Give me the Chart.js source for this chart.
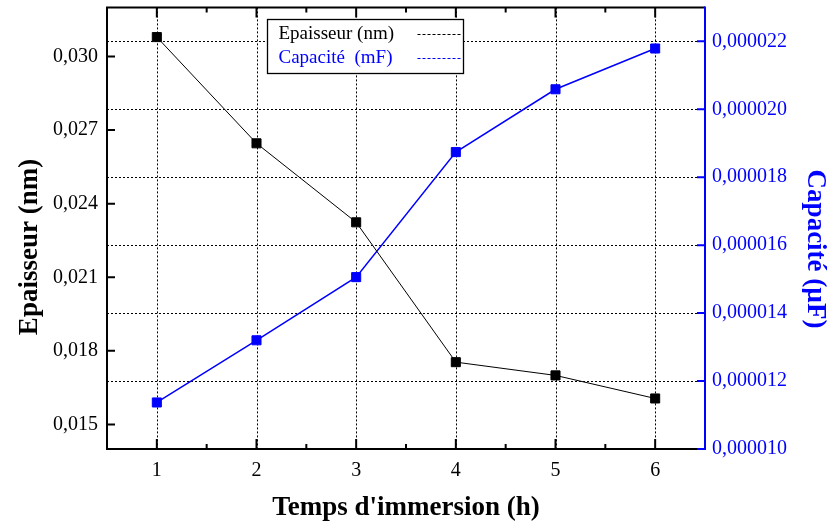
<!DOCTYPE html>
<html><head><meta charset="utf-8">
<script src="https://cdn.jsdelivr.net/npm/chart.js@4"></script>
<style>html,body{margin:0;padding:0;background:#fff}#wrap{width:830px;height:529px}</style>
</head><body><div id="wrap"><canvas id="c" width="830" height="529"></canvas></div>
<script>
// ---- data ----
const hours = [1, 2, 3, 4, 5, 6];
const epaisseur = [0.03079, 0.02646, 0.02324, 0.01754, 0.01700, 0.01606];
const capacite = [0.00001137, 0.00001320, 0.00001506, 0.00001874, 0.00002059, 0.00002179];
const xTicks = [1, 2, 3, 4, 5, 6];
const xMinorTicks = [1.5, 2.5, 3.5, 4.5, 5.5];
const leftTicks = [0.015, 0.018, 0.021, 0.024, 0.027, 0.030];
const rightTicks = [0.000010, 0.000012, 0.000014, 0.000016, 0.000018, 0.000020, 0.000022];
const seriesLabels = ['Epaisseur (nm)', 'Capacité  (mF)'];
const xTitle = "Temps d'immersion (h)";
const leftTitle = 'Epaisseur (nm)';
const rightTitle = 'Capacité (µF)';

const BLUE = '#0000ff';
const SERIF = '"Liberation Serif", "Times New Roman", serif';

const decorPlugin = {
  id: 'decor',
  beforeDatasetsDraw(chart) {
    const {ctx, chartArea: a, scales} = chart;
    ctx.save();
    ctx.strokeStyle = '#000';
    ctx.lineWidth = 1;
    ctx.setLineDash([2, 2]);
    xTicks.forEach(v => {
      const x = Math.round(scales.x.getPixelForValue(v)) + 0.5;
      ctx.beginPath(); ctx.moveTo(x, a.top); ctx.lineTo(x, a.bottom); ctx.stroke();
    });
    rightTicks.forEach(v => {
      const y = Math.round(scales.y1.getPixelForValue(v)) + 0.5;
      if (y >= a.bottom - 1) return;
      ctx.beginPath(); ctx.moveTo(a.left, y); ctx.lineTo(a.right, y); ctx.stroke();
    });
    ctx.restore();
  },
  afterDraw(chart) {
    const {ctx, chartArea: a, scales} = chart;
    ctx.save();
    ctx.setLineDash([]);
    ctx.lineWidth = 2;
    // frame
    ctx.strokeStyle = '#000';
    ctx.beginPath();
    ctx.moveTo(a.right, a.top); ctx.lineTo(a.left, a.top); ctx.lineTo(a.left, a.bottom); ctx.lineTo(a.right, a.bottom);
    ctx.stroke();
    // x ticks (bottom and top, inward)
    ctx.beginPath();
    xTicks.forEach(v => {
      const x = scales.x.getPixelForValue(v);
      ctx.moveTo(x, a.bottom); ctx.lineTo(x, a.bottom - 10);
      ctx.moveTo(x, a.top); ctx.lineTo(x, a.top + 10);
    });
    xMinorTicks.forEach(v => {
      const x = scales.x.getPixelForValue(v);
      ctx.moveTo(x, a.bottom); ctx.lineTo(x, a.bottom - 5);
      ctx.moveTo(x, a.top); ctx.lineTo(x, a.top + 5);
    });
    leftTicks.forEach(v => {
      const y = scales.y.getPixelForValue(v);
      ctx.moveTo(a.left, y); ctx.lineTo(a.left + 8, y);
    });
    ctx.stroke();
    // right axis (blue)
    ctx.strokeStyle = BLUE;
    ctx.beginPath();
    ctx.moveTo(a.right, a.top - 1); ctx.lineTo(a.right, a.bottom + 1);
    rightTicks.forEach(v => {
      const y = scales.y1.getPixelForValue(v);
      ctx.moveTo(a.right, y); ctx.lineTo(a.right - 8, y);
    });
    ctx.stroke();
    // axis titles for the two y axes
    ctx.font = 'bold 27px ' + SERIF;
    ctx.textAlign = 'center';
    ctx.textBaseline = 'middle';
    ctx.fillStyle = '#000';
    ctx.save(); ctx.translate(30, 247); ctx.rotate(-Math.PI / 2); ctx.fillText(leftTitle, 0, 0); ctx.restore();
    ctx.fillStyle = BLUE;
    ctx.save(); ctx.translate(815, 249); ctx.rotate(Math.PI / 2); ctx.fillText(rightTitle, 0, 0); ctx.restore();
    // legend
    const lx = 267.5, ly = 19.5, lw = 196, lh = 54;
    ctx.fillStyle = '#fff';
    ctx.fillRect(lx, ly, lw, lh);
    ctx.strokeStyle = '#000';
    ctx.lineWidth = 1.3;
    ctx.strokeRect(lx, ly, lw, lh);
    ctx.font = '19px ' + SERIF;
    ctx.textBaseline = 'middle';
    ctx.textAlign = 'left';
    chart.data.datasets.forEach((ds, i) => {
      const y = ly + 14.5 + i * 24;
      ctx.fillStyle = ds.borderColor;
      ctx.fillText(ds.label, lx + 11, y);
      ctx.strokeStyle = ds.borderColor;
      ctx.lineWidth = 1;
      ctx.setLineDash([3, 2]);
      ctx.beginPath(); ctx.moveTo(lx + 150, Math.round(y) + 0.5); ctx.lineTo(lx + 194, Math.round(y) + 0.5); ctx.stroke();
      ctx.setLineDash([]);
    });
    ctx.restore();
  }
};

const noPad = s => { s.paddingTop = 0; s.paddingBottom = 0; };

new Chart(document.getElementById('c'), {
  type: 'line',
  data: {
    datasets: [
      {
        label: seriesLabels[0],
        data: hours.map((h, i) => ({x: h, y: epaisseur[i]})),
        yAxisID: 'y',
        borderColor: '#000000', backgroundColor: '#000000',
        borderWidth: 1,
        pointStyle: 'rect', pointRadius: 6.4, pointBorderWidth: 1,
        pointBackgroundColor: '#000000', pointBorderColor: '#000000'
      },
      {
        label: seriesLabels[1],
        data: hours.map((h, i) => ({x: h, y: capacite[i]})),
        yAxisID: 'y1',
        borderColor: BLUE, backgroundColor: BLUE,
        borderWidth: 1.5,
        pointStyle: 'rect', pointRadius: 6.4, pointBorderWidth: 1,
        pointBackgroundColor: BLUE, pointBorderColor: BLUE
      }
    ]
  },
  options: {
    responsive: false,
    devicePixelRatio: 1,
    animation: false,
    layout: {padding: {top: 7, left: 0, right: 0, bottom: 0}},
    plugins: {legend: {display: false}, tooltip: {enabled: false}},
    scales: {
      x: {
        type: 'linear', position: 'bottom', min: 0.5, max: 6.5,
        afterBuildTicks: s => { s.ticks = xTicks.map(v => ({value: v})); },
        afterFit: s => { s.height = 80; s.paddingLeft = 0; s.paddingRight = 0; },
        grid: {display: false, drawTicks: false},
        border: {display: false},
        ticks: {color: '#000', font: {family: SERIF, size: 20}, padding: 10, maxRotation: 0, autoSkip: false,
                callback: v => String(v)},
        title: {display: true, text: xTitle, color: '#000', font: {family: SERIF, size: 27, weight: 'bold'},
                padding: {top: 0, bottom: 5}}
      },
      y: {
        type: 'linear', position: 'left', min: 0.014, max: 0.032,
        afterBuildTicks: s => { s.ticks = leftTicks.map(v => ({value: v})); },
        afterFit: s => { s.width = 107; noPad(s); },
        grid: {display: false, drawTicks: false},
        border: {display: false},
        ticks: {color: '#000', font: {family: SERIF, size: 20}, padding: 9,
                callback: v => v.toFixed(3).replace('.', ',')},
        title: {display: false}
      },
      y1: {
        type: 'linear', position: 'right', min: 0.000010, max: 0.000023,
        afterBuildTicks: s => { s.ticks = rightTicks.map(v => ({value: v})); },
        afterFit: s => { s.width = 125; noPad(s); },
        grid: {display: false, drawTicks: false},
        border: {display: false},
        ticks: {color: BLUE, font: {family: SERIF, size: 20}, padding: 7,
                callback: v => v.toFixed(6).replace('.', ',')},
        title: {display: false}
      }
    }
  },
  plugins: [decorPlugin]
});
</script>
</body></html>
